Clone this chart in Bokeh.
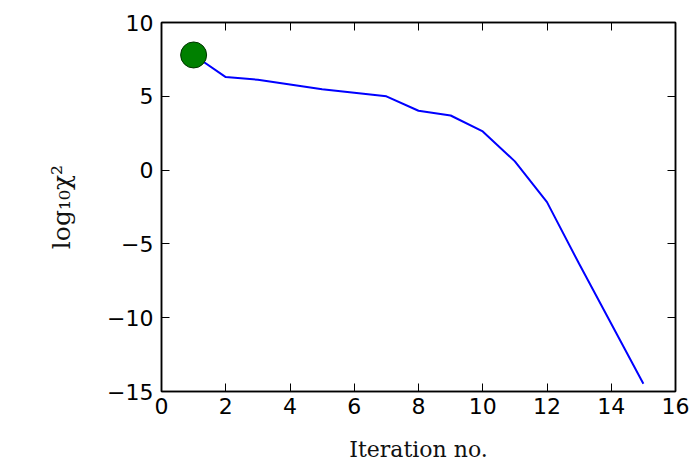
from bokeh.plotting import figure
from bokeh.models import Range1d, LinearAxis, FixedTicker
from bokeh.embed import file_html
from bokeh.resources import INLINE

# Convergence history: log10 chi^2 per iteration
iterations = [1, 2, 3, 4, 5, 6, 7, 8, 9, 10, 11, 12, 13, 14, 15]
log_chi2 = [7.8, 6.3, 6.12, 5.8, 5.47, 5.24, 5.0, 4.02, 3.7, 2.62, 0.59, -2.17, -6.35, -10.41, -14.48]

x_ticks = [0, 2, 4, 6, 8, 10, 12, 14, 16]
y_ticks = [-15, -10, -5, 0, 5, 10]

p = figure(width=690, height=471, output_backend="svg", toolbar_location=None,
           x_range=Range1d(0, 16), y_range=Range1d(-15, 10),
           min_border_left=161, min_border_right=15, min_border_top=22, min_border_bottom=80)

p.background_fill_color = "white"
p.border_fill_color = "white"
p.outline_line_color = "black"
p.outline_line_width = 1.5
p.xgrid.visible = False
p.ygrid.visible = False

tick_font = "DejaVu Sans"
label_font = "DejaVu Serif"

def style_axis(ax, ticks, show_labels):
    ax.ticker = FixedTicker(ticks=ticks)
    ax.major_tick_in = 8
    ax.major_tick_out = 0
    ax.minor_tick_line_color = None
    ax.axis_line_color = "black"
    ax.axis_line_width = 1.5
    ax.major_tick_line_color = "black"
    ax.major_tick_line_width = 1
    if show_labels:
        ax.major_label_text_font = tick_font
        ax.major_label_text_font_size = "22px"
        ax.major_label_text_color = "black"
        ax.major_label_overrides = {t: (str(t).replace("-", "\u2212")) for t in ticks}
    else:
        ax.major_label_text_font_size = "0px"
        ax.major_label_text_color = None

style_axis(p.xaxis[0], x_ticks, True)
style_axis(p.yaxis[0], y_ticks, True)
p.xaxis[0].major_label_standoff = 6
p.yaxis[0].major_label_standoff = 8

p.xaxis[0].axis_label = "Iteration no."
p.xaxis[0].axis_label_text_font = label_font
p.xaxis[0].axis_label_text_font_style = "normal"
p.xaxis[0].axis_label_text_font_size = "22px"
p.xaxis[0].axis_label_text_color = "#111111"
p.xaxis[0].axis_label_standoff = 20

p.yaxis[0].axis_label = "log\u2081\u2080\u03c7\u00b2"
p.yaxis[0].axis_label_text_font = label_font
p.yaxis[0].axis_label_text_font_style = "normal"
p.yaxis[0].axis_label_text_font_size = "25px"
p.yaxis[0].axis_label_text_color = "#111111"
p.yaxis[0].axis_label_standoff = 28

top_axis = LinearAxis()
right_axis = LinearAxis()
style_axis(top_axis, x_ticks, False)
style_axis(right_axis, y_ticks, False)
p.add_layout(top_axis, "above")
p.add_layout(right_axis, "right")

p.line(iterations, log_chi2, line_color="#0000ff", line_width=2)
p.scatter(iterations[:1], log_chi2[:1], size=26, fill_color="#008000",
          line_color="#003300", line_width=1)

open("out.html", "w").write(file_html(p, INLINE))
